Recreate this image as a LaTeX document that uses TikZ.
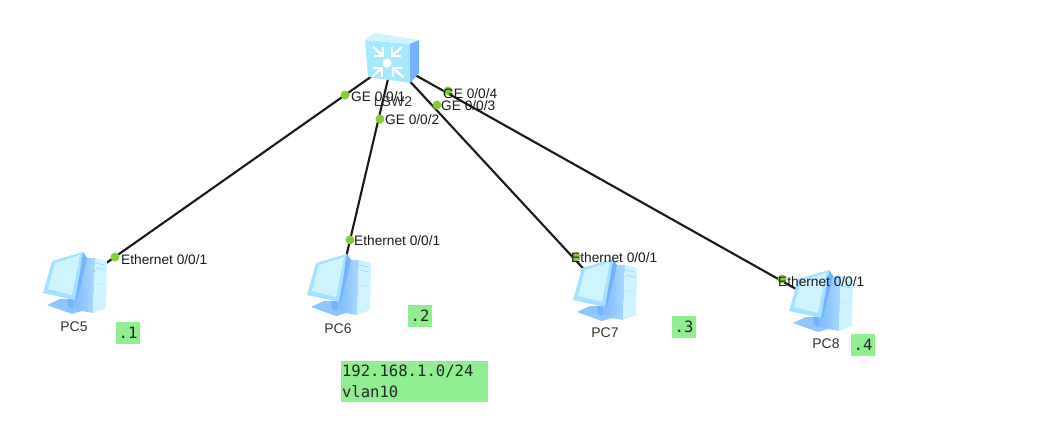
\documentclass[tikz,border=0pt]{standalone}
\usepackage{fontspec}
\setmainfont{Liberation Sans}
\newfontfamily\labelmono{DejaVu Sans Mono}
\usepackage{tikz}
\definecolor{iconframe}{HTML}{A4E0FF}
\definecolor{iconfront}{HTML}{A6E9FF}
\definecolor{iconpale}{HTML}{CDF4FF}
\definecolor{iconblue}{HTML}{74B2FF}
\definecolor{iconmid}{HTML}{8EC6FF}
\definecolor{portgreen}{HTML}{84CC3A}
\definecolor{notegreen}{HTML}{90EE90}
\tikzset{link/.style = {black!90, line width=2.1pt}}
\tikzset{portdot/.style = {circle, fill=portgreen, inner sep=0pt, minimum size=9pt}}
\tikzset{portlabel/.style = {anchor=west, inner sep=0pt, font=\fontsize{13.7}{16}\selectfont, text=black!90}}
\tikzset{devlabel/.style = {inner sep=0pt, font=\fontsize{14}{16}\selectfont, text=black!80}}
\tikzset{note/.style = {fill=notegreen, inner sep=0pt, minimum width=24pt, minimum height=22pt, font=\labelmono\fontsize{15.6}{21}\selectfont, text=black!85}}
\tikzset{pcicon/.pic = {
    % tower
    \shade[left color=iconblue, right color=iconmid!60!iconpale] (12,-27) -- (20,-27) -- (18,28) -- (7,26) -- (-8,20) -- cycle;
    \fill[iconpale] (20,-27) -- (32,-24) -- (31,23) -- (18,28) -- cycle;
    \draw[iconmid, thin] (21,-22) -- (30,-20) (21,-17) -- (30,-15) (21,-1) -- (30,-1);
    % stand
    \fill[iconmid] (-15,14) -- (-7,14) -- (-5,20) -- (7,26) -- (-3,29) -- (-28,20) -- cycle;
    \fill[iconblue] (-8,14) -- (-3,14) -- (-2,24) -- (-7,22) -- cycle;
    % monitor
    \fill[iconblue] (8,-33) -- (12,-27) -- (2,15) -- (0,15) -- cycle;
    \fill[iconframe] (-23,-24) -- (8,-33) -- (0,15) -- (-32,8) -- cycle;
    \fill[iconpale] (-20,-22) -- (5,-30) -- (-3,10) -- (-27,4) -- cycle;
}}
\tikzset{swicon/.pic = {
    % body
    \fill[iconfront, rounded corners=1pt] (-27,-22) -- (18,-18) -- (18,21) -- (-24,15) -- cycle;
    \fill[iconpale] (-27,-22) -- (-17,-29) -- (27,-22) -- (18,-18) -- cycle;
    \fill[iconblue] (18,-18) -- (27,-22) -- (27,11) -- (18,21) -- cycle;
    % arrows
    \fill[white] (-5,1) circle (4.5pt);
    \foreach \cx/\cy/\sx/\sy in {-9/-6/-1/-1, 0/-6/1/-1, -10/6/-1/1, 1/6/1/1}{
        \draw[white, line width=2.2pt] (\cx+\sx*9,\cy) -- (\cx,\cy) -- (\cx,\cy+\sy*9);
        \draw[white, line width=2.2pt] (\cx,\cy) -- (\cx+\sx*10,\cy+\sy*9); }
}}
\begin{document}
\begin{tikzpicture}[x=1pt, y=-1pt]
    \useasboundingbox (0,0) rectangle (1051,427);

    % devices
    \coordinate (sw) at (392,62);
    \coordinate (pc5) at (75,285);
    \coordinate (pc6) at (339,287);
    \coordinate (pc7) at (605,292);
    \coordinate (pc8) at (821,303);

    % links
    \foreach \i in {5,6,7,8}{
        \draw[link] (sw) -- (pc\i); }

    % icons
    \pic at (sw) {swicon};
    \foreach \i in {5,6,7,8}{
        \pic at (pc\i) {pcicon}; }

    % port dots
    \foreach \name/\x/\y in {ge1/345/95, ge2/380/119, ge3/437/105, ge4/448/91, eth5/115/257, eth6/350/240, eth7/576/257, eth8/782/279}{
        \node[portdot] (\name) at (\x,\y) {}; }

    % port labels
    \node[portlabel] (tge1) at (351,97) {GE 0/0/1};
    \node[portlabel] (tge2) at (385,120) {GE 0/0/2};
    \node[portlabel] (tge3) at (441,106) {GE 0/0/3};
    \node[portlabel] (tge4) at (443,94) {GE 0/0/4};
    \node[portlabel] (teth5) at (121,260) {Ethernet 0/0/1};
    \node[portlabel] (teth6) at (354,241) {Ethernet 0/0/1};
    \node[portlabel] (teth7) at (571,258) {Ethernet 0/0/1};
    \node[portlabel] (teth8) at (778,282) {Ethernet 0/0/1};

    % device labels
    \node[devlabel] (lsw) at (393,102) {LSW2};
    \node[devlabel] (l5) at (74,327) {PC5};
    \node[devlabel] (l6) at (338,329) {PC6};
    \node[devlabel] (l7) at (605,333) {PC7};
    \node[devlabel] (l8) at (826,344) {PC8};

    % notes
    \node[note] (n1) at (128,333) {.1};
    \node[note] (n2) at (420,316) {.2};
    \node[note] (n3) at (684,327) {.3};
    \node[note] (n4) at (863,345) {.4};
    \node[note, minimum width=147pt, minimum height=41pt, align=left, text width=145pt] (net) at (414.5,381.5) {192.168.1.0/24\\vlan10};
\end{tikzpicture}
\end{document}
